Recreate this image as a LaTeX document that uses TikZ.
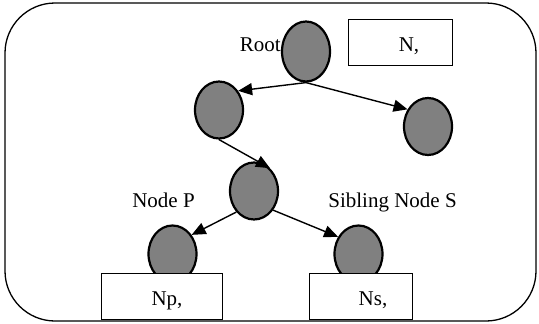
\documentclass[tikz,border=0pt]{standalone}
\usepackage{fontspec}
\setmainfont{Liberation Serif}
\usetikzlibrary{shapes.geometric, arrows.meta}
\definecolor{nodegray}{RGB}{128,128,128}

\begin{document}
\begin{tikzpicture}[x=1pt, y=-1pt,
    every node/.style={inner sep=0pt, font=\fontsize{21}{25}\selectfont},
    tnode/.style={ellipse, draw, line width=2.2pt, fill=nodegray, minimum width=48pt, minimum height=57pt},
    keybox/.style={rectangle, draw, line width=1.3pt, fill=white, minimum height=46pt},
    edge/.style={line width=1.4pt, -{Triangle[length=14pt, width=12pt]}}]
    \useasboundingbox (0,0) rectangle (539,324);
    \draw[line width=1.3pt, rounded corners=50pt] (5,3) rectangle (536,321);
    % tree nodes
    \node[tnode, minimum height=60pt] (root) at (306, 51.5) {};
    \node[tnode] (l1) at (219, 110) {};
    \node[tnode] (r1) at (428, 126.5) {};
    \node[tnode] (m) at (254, 191) {};
    \node[tnode] (p) at (172.5, 254) {};
    \node[tnode] (s) at (358.5, 254) {};
    % key boxes
    \node[keybox, minimum width=104pt] (nbox) at (400.5, 42.5) {};
    \node[keybox, minimum width=121pt] (npbox) at (162, 296.5) {};
    \node[keybox, minimum width=103pt] (nsbox) at (361, 296.5) {};
    \node[anchor=base] (ntext) at (409, 51.5) {N,};
    \node[anchor=base] (nptext) at (167, 305) {Np,};
    \node[anchor=base] (nstext) at (373, 305) {Ns,};
    % labels
    \node[anchor=base east] (rootlbl) at (281, 51) {Root};
    \node[anchor=base] (plbl) at (163.5, 207) {Node P};
    \node[anchor=base] (slbl) at (392.5, 207) {Sibling Node S};
    \foreach \from/\to in {root.south/l1.45, root.south/r1.140, l1.south/m.55, m.-130/p.45, m.-45/s.140}
        \draw[edge] (\from) -- (\to);
\end{tikzpicture}
\end{document}
